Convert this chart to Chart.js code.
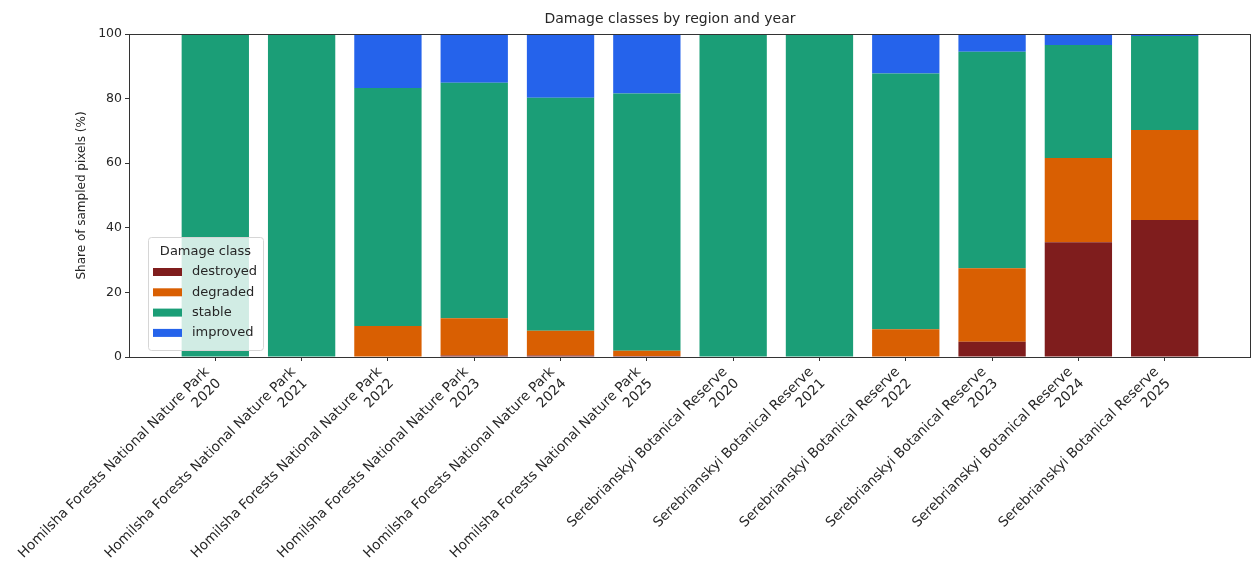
<!DOCTYPE html>
<html>
<head>
<meta charset="utf-8">
<script src="https://cdn.jsdelivr.net/npm/chart.js@4.4.1/dist/chart.umd.min.js"></script>
<style>
  html, body { margin: 0; padding: 0; background: #fff; }
  #wrap { width: 1251px; height: 561px; }
</style>
</head>
<body>
<div id="wrap"><canvas id="damageChart" width="1251" height="561"></canvas></div>
<script>
const regions = [
  'Homilsha Forests National Nature Park', 'Homilsha Forests National Nature Park',
  'Homilsha Forests National Nature Park', 'Homilsha Forests National Nature Park',
  'Homilsha Forests National Nature Park', 'Homilsha Forests National Nature Park',
  'Serebrianskyi Botanical Reserve', 'Serebrianskyi Botanical Reserve',
  'Serebrianskyi Botanical Reserve', 'Serebrianskyi Botanical Reserve',
  'Serebrianskyi Botanical Reserve', 'Serebrianskyi Botanical Reserve'
];
const years = ['2020', '2021', '2022', '2023', '2024', '2025', '2020', '2021', '2022', '2023', '2024', '2025'];

const destroyed = [0, 0, 0, 0.5, 0.5, 0.3, 0, 0, 0, 4.7, 35.5, 42.4];
const degraded  = [0, 0, 9.6, 11.5, 7.6, 1.6, 0, 0, 8.6, 22.8, 26.1, 27.9];
const stable    = [100, 100, 73.7, 72.9, 72.2, 79.7, 100, 100, 79.2, 67.0, 35.0, 29.1];
const improved  = [0, 0, 16.7, 15.1, 19.7, 18.4, 0, 0, 12.2, 5.5, 3.4, 0.6];

const classNames = ['destroyed', 'degraded', 'stable', 'improved'];
const classColors = ['#7f1d1d', '#d95f02', '#1b9e77', '#2563eb'];
const yTicks = [0, 20, 40, 60, 80, 100];

const FONT = 'DejaVu Sans';
const ink = '#262626';

function toPoints(arr) {
  return arr.map((v, i) => ({ x: i, y: v }));
}

// frame all around the plot + title + legend inside the plot
const framePlugin = {
  id: 'frame',
  afterDraw(chart) {
    const a = chart.chartArea;
    const ctx = chart.ctx;
    ctx.save();
    ctx.strokeStyle = '#333';
    ctx.lineWidth = 1;
    ctx.strokeRect(a.left + 0.5, a.top + 0.5, a.right - a.left - 1, a.bottom - a.top);

    // title
    ctx.fillStyle = ink;
    ctx.font = '14px "' + FONT + '"';
    ctx.textAlign = 'center';
    ctx.textBaseline = 'middle';
    ctx.fillText('Damage classes by region and year', 670, 19);

    // legend
    const lx = a.left + 19, ly = a.bottom - 120, lw = 115, lh = 113;
    ctx.fillStyle = 'rgba(255,255,255,0.8)';
    ctx.strokeStyle = '#d6d6d6';
    ctx.beginPath();
    ctx.roundRect(lx + 0.5, ly + 0.5, lw, lh, 3);
    ctx.fill();
    ctx.stroke();
    ctx.fillStyle = ink;
    ctx.font = '13px "' + FONT + '"';
    ctx.textAlign = 'center';
    ctx.fillText('Damage class', lx + lw / 2, ly + 15);
    ctx.textAlign = 'left';
    classNames.forEach((name, i) => {
      const y = ly + 35 + i * 20.3;
      ctx.fillStyle = classColors[i];
      ctx.fillRect(lx + 5, y - 4, 29, 8);
      ctx.fillStyle = ink;
      ctx.fillText(name, lx + 44, y);
    });
    ctx.restore();
  }
};

const ctx = document.getElementById('damageChart').getContext('2d');

const datasets = [destroyed, degraded, stable, improved].map((arr, i) => ({
  label: classNames[i],
  data: toPoints(arr),
  backgroundColor: classColors[i],
  borderWidth: 0,
  barPercentage: 0.78,
  categoryPercentage: 1
}));

window.myChart = new Chart(ctx, {
  type: 'bar',
  data: { datasets: datasets },
  plugins: [framePlugin],
  options: {
    responsive: false,
    animation: false,
    layout: { padding: { top: 34, right: 0, left: 75, bottom: 0 } },
    plugins: {
      legend: { display: false },
      title: { display: false },
      tooltip: { enabled: false }
    },
    scales: {
      x: {
        type: 'linear',
        stacked: true,
        min: -1,
        max: 12,
        offset: false,
        grid: { display: true, offset: false, drawOnChartArea: false, drawTicks: true, tickLength: 4, color: '#333' },
        border: { display: false },
        ticks: {
          stepSize: 1,
          autoSkip: false,
          minRotation: 45,
          maxRotation: 45,
          padding: 3,
          labelOffset: -8,
          color: ink,
          font: { family: FONT, size: 13.7 },
          callback: v => (v >= 0 && v < regions.length) ? [regions[v], years[v]] : ''
        },
        afterBuildTicks: s => { s.ticks = s.ticks.filter(t => t.value >= 0 && t.value <= 11); },
        afterFit: s => { s.height = 204; s.paddingLeft = 0; s.paddingRight = 0; }
      },
      y: {
        stacked: true,
        min: 0,
        max: 100,
        grid: { display: true, drawOnChartArea: false, drawTicks: true, tickLength: 4, color: '#333' },
        border: { display: false },
        afterBuildTicks: s => { s.ticks = yTicks.map(v => ({ value: v })); },
        ticks: {
          padding: 3,
          color: ink,
          font: { family: FONT, size: 12.5 }
        },
        title: {
          display: true,
          text: 'Share of sampled pixels (%)',
          color: ink,
          font: { family: FONT, size: 12 },
          padding: { top: 0, bottom: 0 }
        },
        afterFit: s => { s.width = 54; s.paddingTop = 0; s.paddingBottom = 0; }
      }
    }
  }
});
</script>
</body>
</html>
